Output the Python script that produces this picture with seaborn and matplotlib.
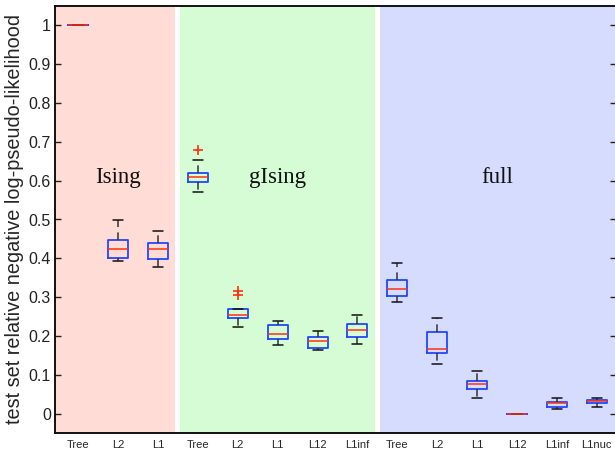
import numpy as np
import pandas as pd
import matplotlib
matplotlib.use("Agg")
import matplotlib.pyplot as plt
import seaborn as sns

# Model families and the estimator used within each one
models = ["Ising"] * 3 + ["gIsing"] * 5 + ["full"] * 6
methods = ["Tree", "L2", "L1",
           "Tree", "L2", "L1", "L12", "L1inf",
           "Tree", "L2", "L1", "L12", "L1inf", "L1nuc"]

# Box summaries per estimator: whisker ends, quartiles and median
whisker_low = [1.000, 0.394, 0.378, 0.570, 0.222, 0.176, 0.163, 0.178, 0.288, 0.129, 0.039, 0.000, 0.013, 0.018]
quartile_1 = [1.000, 0.400, 0.398, 0.597, 0.246, 0.191, 0.168, 0.198, 0.303, 0.155, 0.063, 0.000, 0.016, 0.026]
median = [1.000, 0.423, 0.424, 0.609, 0.255, 0.206, 0.187, 0.215, 0.322, 0.167, 0.077, 0.000, 0.026, 0.032]
quartile_3 = [1.000, 0.448, 0.439, 0.621, 0.269, 0.227, 0.198, 0.230, 0.345, 0.210, 0.083, 0.000, 0.030, 0.036]
whisker_high = [1.000, 0.498, 0.471, 0.654, 0.269, 0.238, 0.214, 0.254, 0.387, 0.245, 0.110, 0.000, 0.039, 0.040]

# Outlying runs: index of the estimator and its value
outlier_index = [3, 4, 4]
outlier_value = [0.678, 0.315, 0.306]

model_names = ["Ising", "gIsing", "full"]
model_colors = ["#FFDCD6", "#D5FCD5", "#D6DCFE"]

ytick_values = [0, 0.1, 0.2, 0.3, 0.4, 0.5, 0.6, 0.7, 0.8, 0.9, 1]
ytick_labels = ["0", "0.1", "0.2", "0.3", "0.4", "0.5", "0.6", "0.7", "0.8", "0.9", "1"]

keys = [f"{m}/{e}" for m, e in zip(models, methods)]
rows = []
for k, lo, a, md, b, hi in zip(keys, whisker_low, quartile_1, median, quartile_3, whisker_high):
    for v in (lo, a, md, b, hi):
        rows.append({"estimator": k, "value": v})
df = pd.DataFrame(rows)

sns.set_style("white")
plt.rcParams["font.family"] = ["Liberation Sans", "DejaVu Sans"]

fig = plt.figure(figsize=(6.15, 4.49), dpi=100)
ax = fig.add_axes([55 / 615, 1 - 433 / 449, 561 / 615, 427 / 449])

xmin, xmax = -0.58, 13.48
gap = 0.065

# Shaded band behind each model family
for i, (name, col) in enumerate(zip(model_names, model_colors)):
    idx = [j for j, m in enumerate(models) if m == name]
    left = xmin if i == 0 else idx[0] - 0.5 + gap
    right = xmax if i == len(model_names) - 1 else idx[-1] + 0.5 - gap
    ax.axvspan(left, right, color=col, lw=0, zorder=0)
    ax.text(np.mean(idx), 0.594, name, ha="center", va="baseline",
            fontsize=16.5, family=["Liberation Serif", "DejaVu Serif"], color="#111111")

sns.boxplot(data=df, x="estimator", y="value", order=keys, ax=ax,
            width=0.5, whis=(0, 100), fill=False, linewidth=1.2,
            showfliers=False,
            boxprops={"color": "#2346FF", "linewidth": 1.3},
            medianprops={"color": "#FF3010", "linewidth": 1.1},
            whiskerprops={"color": "#333333", "linestyle": (0, (5, 3.5)), "linewidth": 1.1},
            capprops={"color": "#111111", "linewidth": 1.1})

ax.plot(outlier_index, outlier_value, linestyle="none", marker="+",
        markersize=7, markeredgewidth=1.2, color="#FF3010", zorder=5)

ax.set_xlim(xmin, xmax)
ax.set_ylim(-0.05, 1.05)
ax.set_xticks(range(len(methods)))
ax.set_xticklabels(methods, fontsize=8)
ax.set_yticks(ytick_values)
ax.set_yticklabels(ytick_labels, fontsize=11.5)
ax.set_xlabel("")
ax.set_ylabel("test set relative negative log-pseudo-likelihood", fontsize=14.3, labelpad=3)

ax.tick_params(axis="y", direction="in", length=4, width=1, left=True, right=True, pad=3, colors="#222222")
ax.tick_params(axis="x", length=0, pad=5)
for s in ax.spines.values():
    s.set_visible(True)
    s.set_color("black")
    s.set_linewidth(1.3)
ax.set_facecolor("white")

fig.savefig("out.png", dpi=100)
